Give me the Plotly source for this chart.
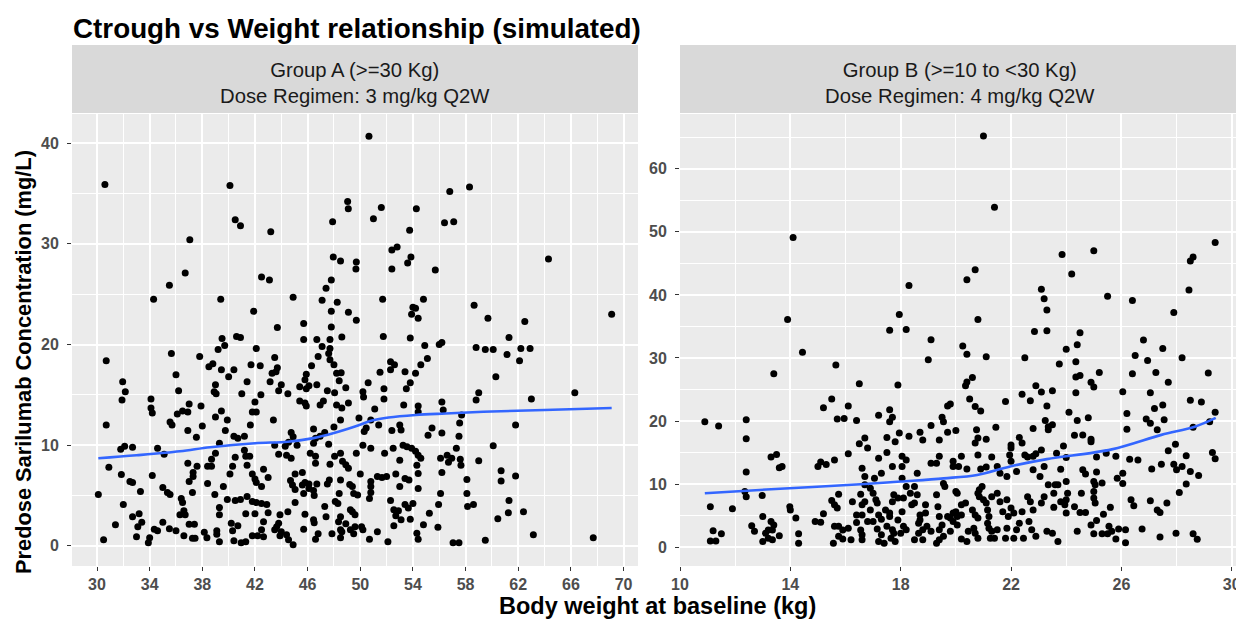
import plotly.graph_objects as go

# ---------------- data ----------------
# Group A (>=30 kg): (body weight kg, Ctrough mg/L)
group_a_points = [
    (30.6,35.9),(40.1,35.8),(40.5,32.4),(40.9,31.8),(37.05,30.4),(36.7,27.1),(35.5,25.9),(34.3,24.5),
    (39.4,24.5),(41.9,23.3),(39.5,20.6),(40.6,20.8),(40.9,20.7),
    (50.66,40.7),(49.04,34.2),(49.09,33.5),(51.6,33.6),(54.26,33.5),(47.9,32.2),(51.0,32.5),(43.2,31.2),
    (53.75,31.35),(56.4,32.1),(52.4,29.4),(52.8,29.7),(47.95,28.7),(48.5,28.3),(49.7,28.2),(49.67,27.5),
    (53.85,28.7),(53.6,28.1),(52.4,27.5),(55.7,27.4),(42.5,26.7),(43.1,26.4),(47.8,26.4),(47.4,25.6),
    (44.9,24.7),(47.1,24.4),(48.25,24.2),(51.7,24.5),(54.8,24.5),(47.8,23.3),(49.1,23.2),(54.0,23.7),
    (54.2,23.6),(53.9,23.0),(54.4,22.6),(49.7,22.4),(45.7,22.1),(43.7,21.7),(47.8,21.75),(46.7,20.5),
    (47.7,20.5),(48.6,20.75),(45.7,20.5),(51.75,20.8),(53.8,20.65),
    (56.8,35.2),(58.3,35.65),(57.1,32.2),(64.3,28.5),(58.65,23.9),(59.7,22.6),(62.5,22.3),(69.1,23.0),
    (61.3,20.7),
    (39.7,19.9),(39.2,19.5),(42.1,19.6),(30.7,18.4),(35.65,19.1),(37.8,18.8),(38.5,17.8),(38.8,18.1),
    (39.45,17.5),(40.0,16.8),(40.4,17.5),(41.7,18.0),(36.0,17.0),(31.95,16.3),(32.15,15.3),(31.9,14.5),
    (36.2,15.4),(39.0,16.0),(38.9,15.3),(39.05,15.1),(41.4,16.3),(41.0,15.1),(34.1,14.6),(34.1,13.7),
    (34.2,13.2),(42.0,14.3),(37.9,13.9),(37.0,14.1),(36.5,13.4),(36.1,13.1),(36.9,13.3),(39.45,13.4),
    (39.0,12.8),(39.9,12.5),(41.8,13.3),(42.1,13.3),(30.7,12.0),(35.55,12.3),(35.7,12.0),(38.0,11.9),
    (41.65,12.0),(39.75,11.45),(36.9,11.45),(37.55,10.8),(40.4,10.9),(40.7,10.7),(41.2,10.9),(31.8,9.6),
    (32.1,9.9),(32.7,9.8),(34.6,9.7),(35.1,9.1),(39.3,10.2),(39.0,9.2),(38.7,8.6),(38.7,7.9),(38.4,7.9),
    (41.2,9.5),(41.3,8.9),(41.6,8.9),(40.5,8.8),(40.3,7.9),(41.4,8.0),(30.9,7.8),(36.9,8.2),(37.6,7.9),
    (37.3,7.3),(37.3,6.9),(37.0,6.4),(31.85,7.1),(34.2,7.0),(32.5,6.4),(32.7,6.3),(40.1,7.15),(38.4,6.2),
    (39.6,5.9),(41.8,7.15),(42.0,6.65),(42.1,6.3),(33.3,5.4),(35.0,5.8),(35.35,5.3),(35.55,5.1),
    (37.25,5.3),(38.95,5.1),(30.1,5.1),(36.4,4.7),(36.5,4.3),(39.9,4.6),(40.5,4.5),(40.9,4.6),(41.4,4.9),
    (41.8,4.4),(42.1,4.3),(32.0,4.1),(39.3,3.8),(39.3,3.1),(36.6,3.5),(36.7,3.1),(36.3,3.1),(32.7,2.9),
    (33.2,3.2),(41.3,3.2),(42.0,3.2),(33.4,2.35),(33.1,1.9),(33.0,0.9),(31.4,2.1),(35.0,2.35),(34.35,1.65),
    (34.6,1.5),(35.5,1.7),(36.0,1.5),(37.0,2.15),(37.4,2.15),(36.6,1.0),(37.25,0.75),(37.45,0.75),
    (38.15,1.35),(38.35,0.8),(39.1,1.5),(39.1,1.15),(39.3,0.4),(40.2,2.25),(40.3,1.5),(40.7,2.0),(40.4,0.5),
    (40.95,0.3),(41.3,0.4),(41.8,1.0),(42.2,1.0),(30.5,0.6),(34.0,0.8),(33.9,0.3),
    (47.1,19.8),(47.7,19.6),(46.8,18.8),(47.6,19.1),(47.7,18.5),(48.0,18.0),(43.5,18.7),(42.4,17.9),
    (46.3,17.9),(43.7,17.7),(43.6,17.3),(43.3,17.15),(48.2,17.15),(48.55,17.2),(48.4,16.4),(45.9,17.05),
    (45.8,16.5),(43.15,16.3),(46.1,15.9),(45.4,15.8),(44.0,16.0),(43.8,15.4),(44.5,15.1),(45.9,15.6),
    (46.7,16.0),(47.5,15.4),(48.05,15.2),(48.9,15.7),(42.45,15.0),(45.4,14.4),(45.8,14.2),(45.9,13.9),
    (46.95,14.0),(47.2,14.4),(48.2,14.0),(48.6,13.7),(49.1,14.2),(50.2,15.3),(50.25,14.8),(50.6,16.2),
    (51.5,17.25),(52.3,18.3),(52.6,18.0),(52.3,17.5),(51.8,15.6),(51.8,14.6),(53.4,17.3),(54.2,17.15),
    (54.6,18.0),(55.1,18.6),(54.9,19.9),(56.0,20.0),(56.2,20.2),(53.8,16.2),(53.5,15.6),(53.3,14.0),
    (54.4,13.9),(54.4,13.3),(51.1,13.6),(49.9,12.7),(50.8,12.5),(50.3,11.35),(50.45,11.7),(51.4,12.0),
    (52.4,11.45),(53.0,12.0),(53.1,11.5),(55.45,11.7),(55.15,11.0),(43.4,12.5),(48.5,12.5),(46.45,11.6),
    (47.3,11.25),(46.95,10.9),(44.75,11.25),(44.9,10.85),(45.2,10.0),(48.0,11.8),(47.6,10.1),(46.6,10.7),
    (46.45,10.2),(43.5,10.0),(44.3,9.9),(44.55,10.3),(50.2,10.0),(50.8,9.7),(52.5,9.7),(53.25,10.0),
    (53.55,9.85),(53.9,9.7),(54.2,9.4),(54.4,9.0),(54.6,8.7),(54.3,8.0),(43.8,9.1),(44.4,9.0),(44.75,8.7),
    (46.2,9.2),(46.6,8.9),(46.6,8.2),(48.05,8.9),(48.5,9.2),(48.65,8.4),(49.7,9.2),(51.85,9.2),(53.0,8.5),
    (47.7,8.1),(48.9,8.05),(49.1,7.7),(54.4,7.2),(50.0,7.15),(42.65,7.6),(43.0,6.8),(42.5,5.9),(45.05,7.15),
    (45.6,7.3),(44.7,6.5),(44.85,6.05),(45.05,5.6),(45.6,6.05),(45.8,6.3),(46.1,6.15),(46.1,5.7),(45.7,5.2),
    (46.45,5.5),(46.5,5.0),(46.7,6.15),(47.5,6.15),(47.65,6.55),(48.5,6.55),(48.4,5.2),(49.2,6.1),(49.4,5.9),
    (49.5,5.2),(49.8,5.05),(50.8,6.4),(50.8,5.9),(50.8,5.3),(50.7,4.7),(51.3,6.9),(51.65,6.8),(52.0,6.9),
    (52.7,7.15),(53.0,5.9),(53.4,6.7),(53.7,6.55),(54.4,5.7),(56.1,5.2),(42.5,4.2),(42.9,4.1),(43.0,3.3),
    (42.65,2.4),(43.9,3.1),(44.5,3.4),(45.05,4.3),(45.8,3.15),(43.8,2.25),(43.65,1.9),(43.5,1.6),(44.0,1.4),
    (43.9,1.0),(44.4,1.1),(44.55,0.6),(44.9,0.1),(42.5,1.6),(42.65,0.9),(45.7,1.65),(46.45,2.6),(46.5,2.3),
    (46.6,0.65),(46.8,1.2),(47.3,3.9),(47.4,2.9),(47.85,1.2),(48.1,4.4),(48.3,4.2),(48.5,2.9),(48.35,2.4),
    (48.5,1.6),(48.6,1.4),(48.5,0.8),(48.9,2.2),(49.25,3.6),(49.4,3.4),(49.6,3.1),(49.25,1.6),(49.5,1.2),
    (49.6,1.9),(50.1,1.9),(50.2,1.6),(50.7,0.65),(51.3,1.4),(52.1,0.4),(52.3,4.5),(52.55,3.6),(52.7,3.0),
    (52.9,3.5),(53.1,2.6),(53.4,4.1),(53.65,3.75),(54.0,4.2),(52.55,2.0),(53.8,2.65),(54.3,1.25),(54.4,0.65),
    (54.8,2.1),(55.25,3.25),(55.9,1.85),(55.95,4.1),(56.2,14.3),(56.3,13.5),(56.2,11.2),(56.1,8.7),(56.2,7.3),
    (58.8,19.7),(59.5,19.5),(60.1,19.5),(61.15,19.0),(62.2,19.6),(62.9,19.6),(62.1,18.4),(60.3,16.8),
    (59.0,15.2),(58.8,14.5),(63.0,14.6),(66.3,15.2),(57.7,13.0),(57.55,12.2),(57.5,10.9),(57.3,9.7),
    (61.8,12.0),(60.1,9.95),(56.6,9.0),(56.7,8.3),(56.95,8.7),(57.6,8.6),(57.65,8.0),(59.0,8.45),(58.1,6.6),
    (60.7,7.45),(60.7,6.45),(61.8,6.95),(58.1,5.2),(58.15,3.9),(58.6,4.1),(61.3,4.5),(61.25,3.3),(62.4,3.4),
    (60.45,2.7),(63.15,1.1),(67.7,0.8),(57.05,0.3),(57.5,0.3),(59.5,0.55),
]

# Group B (>=10 to <30 kg)
group_b_points = [
    (14.1,49.1),(13.9,36.1),
    (21.0,65.2),(21.4,53.9),(20.7,44.0),(20.4,42.4),(18.3,41.5),(23.1,40.9),(23.2,39.4),(23.3,37.6),
    (17.95,36.9),(20.8,36.1),(17.6,34.4),(18.2,34.5),(22.85,34.2),(23.3,34.3),(19.1,32.9),
    (29.4,48.3),(28.6,46.0),(28.5,45.4),(25.0,47.0),(23.85,46.4),(24.2,43.3),(28.45,40.8),(25.5,39.8),
    (26.4,39.1),(27.9,37.2),(24.5,34.0),(26.8,32.85),
    (14.44,30.9),(15.65,28.9),(13.4,27.5),(16.5,25.9),(15.5,23.5),(15.2,22.1),(16.1,22.4),(10.9,19.9),
    (11.4,19.2),(12.4,20.2),(12.4,17.2),(15.7,20.3),(15.95,20.4),(16.4,20.1),(16.7,17.3),(16.5,16.4),
    (13.3,14.3),(13.5,14.7),(13.6,12.6),(13.7,12.8),(12.4,11.9),(15.1,13.5),(15.0,12.8),(15.3,13.1),
    (15.6,13.8),(16.1,14.8),(16.6,12.5),(16.7,11.2),(12.35,8.8),(12.4,8.0),(12.98,8.2),(11.1,6.4),(11.9,6.1),
    (13.98,6.4),(14.0,5.9),(15.75,8.4),(15.5,7.4),(15.6,6.7),(15.7,6.2),(16.25,7.2),(16.55,8.4),(16.7,7.2),
    (15.2,5.3),(14.2,4.6),(13.0,4.85),(13.3,4.05),(13.4,3.5),(13.35,2.7),(13.2,2.7),(13.1,2.2),(13.2,1.4),
    (13.35,1.15),(13.6,1.8),(13.0,0.9),(12.6,3.4),(12.7,2.5),(11.2,2.6),(11.5,2.1),(11.1,0.95),(11.3,0.95),
    (14.9,4.05),(15.1,3.95),(14.3,2.1),(14.3,0.6),(15.56,0.6),(15.6,3.3),(15.75,3.3),(15.9,2.7),(16.1,3.0),
    (16.4,3.9),(16.55,2.7),(15.75,1.7),(15.9,1.3),(16.2,1.15),(16.6,1.15),(16.4,5.1),(16.6,5.1),
    (20.25,31.9),(20.4,30.6),(21.1,30.2),(19.0,29.7),(22.5,30.05),(17.9,25.7),(20.6,26.9),(20.4,26.2),
    (20.35,25.6),(20.5,23.5),(20.7,22.3),(20.9,21.6),(19.7,22.4),(19.8,22.7),(21.8,23.1),(22.4,24.25),
    (22.7,23.2),(22.9,25.6),(23.1,24.6),(23.3,22.4),(17.2,20.9),(17.6,21.8),(17.7,20.6),(17.6,19.9),
    (19.5,20.6),(19.55,19.9),(19.1,19.3),(16.8,15.7),(17.5,17.4),(17.8,16.7),(17.95,18.1),(18.3,17.6),
    (18.7,18.2),(18.8,17.0),(19.4,17.0),(19.7,18.2),(20.0,18.5),(20.75,18.6),(20.8,17.3),(20.7,16.5),
    (21.1,17.1),(21.45,19.0),(22.0,16.2),(22.0,15.7),(22.3,17.4),(22.4,16.5),(22.8,18.8),(23.24,20.1),
    (23.35,19.1),(23.1,15.4),(22.9,14.8),(22.6,14.3),(22.8,14.4),(17.2,14.1),(17.5,15.0),(17.7,12.8),
    (18.05,14.4),(18.2,13.8),(18.05,12.8),(18.05,10.9),(17.3,11.7),(17.05,10.9),(16.7,9.9),(18.6,11.7),
    (19.1,13.3),(19.3,13.3),(19.4,14.4),(19.9,13.6),(19.9,12.8),(20.1,12.8),(20.2,14.4),(20.4,12.4),
    (20.8,14.6),(20.9,12.4),(21.1,12.7),(21.3,14.3),(21.5,12.8),(21.6,11.7),(21.85,11.2),(21.95,14.6),
    (22.0,13.6),(22.2,12.0),(22.5,14.6),(22.8,12.25),(23.05,11.2),(23.2,12.8),(16.6,6.7),(16.8,4.05),
    (16.6,1.95),(16.9,9.35),(17.0,8.55),(17.1,7.5),(17.15,7.0),(16.9,5.9),(17.2,5.1),(17.0,4.05),(17.3,4.4),
    (17.15,2.85),(17.3,1.95),(17.2,0.9),(17.4,0.6),(17.45,5.9),(17.6,5.4),(17.6,4.85),(17.5,3.3),(17.7,2.75),
    (17.75,2.2),(17.65,1.4),(17.8,0.9),(17.9,4.3),(18.05,5.6),(18.1,3.3),(18.2,2.75),(18.0,2.2),(17.7,7.2),
    (17.9,7.8),(17.75,8.3),(18.1,7.8),(18.2,9.6),(18.5,9.6),(18.35,8.55),(18.4,6.7),(18.5,7.0),(18.6,8.3),
    (18.9,6.7),(18.7,5.1),(18.7,4.3),(18.65,3.8),(18.95,3.3),(18.8,2.75),(18.65,2.2),(18.8,1.15),(18.5,1.15),
    (19.1,2.5),(18.9,5.4),(19.3,8.3),(19.35,6.4),(19.4,4.85),(19.5,3.5),(19.4,2.75),(19.55,1.7),(19.4,1.15),
    (19.3,0.6),(19.55,10.1),(19.6,9.6),(19.7,4.85),(19.8,4.6),(19.9,5.4),(19.9,4.05),(20.0,5.6),(20.05,4.85),
    (20.2,5.1),(20.05,3.5),(19.8,2.5),(20.2,1.3),(20.35,7.0),(20.0,8.8),(20.05,8.55),(20.2,6.7),(20.4,0.9),
    (20.6,5.9),(20.7,5.1),(20.8,4.6),(20.65,3.0),(20.7,2.2),(20.45,2.5),(20.8,1.4),(20.85,9.1),(20.8,8.55),
    (20.85,8.0),(20.95,9.6),(21.0,7.5),(21.1,7.0),(21.15,5.9),(21.2,4.85),(21.15,3.8),(21.2,3.0),(21.3,2.5),
    (21.25,1.4),(21.4,1.4),(21.5,2.75),(21.3,8.0),(21.5,8.55),(21.6,7.2),(21.7,5.6),(21.85,7.5),(21.9,4.85),
    (22.0,6.2),(22.1,5.4),(21.85,3.0),(21.8,1.4),(22.1,1.4),(22.2,2.75),(22.3,3.8),(22.4,5.6),(22.45,1.4),
    (22.6,8.0),(22.7,7.2),(22.8,5.9),(22.65,4.05),(22.75,2.75),(22.9,1.7),(23.1,7.0),(23.2,8.0),(23.3,2.5),
    (27.5,31.5),(28.2,30.05),(26.5,30.4),(26.95,29.6),(24.4,32.1),(24.0,31.4),(23.75,29.05),(24.35,29.4),
    (29.15,27.6),(25.2,27.7),(26.4,27.5),(27.25,27.7),(24.35,27.0),(24.5,27.2),(24.9,26.15),(25.0,25.4),
    (27.7,26.15),(23.5,24.8),(24.35,24.5),(26.05,24.65),(27.05,24.5),(28.5,23.3),(28.9,23.0),(24.1,21.4),
    (24.4,20.1),(24.8,20.5),(26.2,21.2),(27.2,22.0),(27.5,22.55),(26.9,20.3),(27.05,19.65),(27.55,20.2),
    (29.2,19.9),(29.4,21.4),(28.6,19.0),(27.3,18.6),(26.2,18.7),(23.5,19.4),(23.35,18.6),(24.3,17.75),
    (24.6,17.8),(24.9,17.1),(24.9,16.7),(23.9,16.05),(23.65,14.9),(24.0,14.2),(25.1,14.3),(25.45,14.9),
    (25.8,14.4),(26.3,13.95),(26.6,13.8),(27.7,15.3),(27.96,16.3),(28.35,14.5),(29.3,15.0),(29.4,14.0),
    (27.1,12.4),(27.45,13.15),(27.9,13.15),(28.0,12.25),(28.2,12.8),(28.5,12.0),(28.8,11.35),(23.8,12.35),
    (23.35,9.9),(23.6,9.9),(23.7,9.9),(23.55,8.55),(24.0,10.4),(24.6,12.25),(24.7,11.6),(25.1,11.9),
    (25.0,10.4),(25.05,9.9),(25.3,10.15),(25.0,8.8),(24.55,8.55),(24.05,8.55),(24.0,7.5),(23.8,7.2),
    (23.95,6.7),(24.0,5.4),(23.55,6.3),(24.3,6.4),(24.5,5.5),(24.7,5.5),(25.0,7.8),(25.05,7.0),(25.35,5.2),
    (25.6,6.3),(24.9,3.5),(25.1,4.2),(25.0,2.1),(25.3,2.1),(25.5,2.1),(25.55,3.3),(25.65,2.5),(25.8,1.3),
    (25.9,2.85),(26.15,2.75),(26.15,0.7),(24.4,2.5),(23.7,0.9),(23.5,2.2),(25.85,10.9),(26.05,11.7),
    (26.05,10.1),(26.35,7.5),(26.45,6.55),(26.75,2.85),(27.05,7.35),(27.3,5.9),(27.4,5.5),(27.65,7.0),
    (27.4,1.6),(27.98,2.2),(28.1,8.65),(28.35,10.0),(28.6,2.1),(28.75,1.25),
]

# smoothed (loess) trend lines as drawn
a_smooth_weight = [30.1, 33.0, 36.3, 38.6, 42.0, 44.5, 46.45, 48.0, 49.6, 50.9, 52.15, 54.2, 56.5, 60.0, 64.0, 69.1]
a_smooth_conc   = [8.7, 9.0, 9.4, 9.8, 10.2, 10.35, 10.7, 11.2, 11.85, 12.45, 12.75, 13.0, 13.15, 13.35, 13.5, 13.7]
b_smooth_weight = [10.9, 13.8, 16.7, 18.0, 19.56, 20.77, 21.97, 23.3, 25.65, 27.45, 28.66, 29.42]
b_smooth_conc   = [8.55, 9.3, 10.0, 10.4, 10.9, 11.45, 12.8, 13.95, 15.5, 17.8, 19.1, 20.5]

a_weight = [p[0] for p in group_a_points]
a_conc = [p[1] for p in group_a_points]
b_weight = [p[0] for p in group_b_points]
b_conc = [p[1] for p in group_b_points]

title_text = "Ctrough vs Weight relationship (simulated)"
strip_a = "Group A (>=30 Kg)<br>Dose Regimen: 3 mg/kg Q2W"
strip_b = "Group B (>=10 to &lt;30 Kg)<br>Dose Regimen: 4 mg/kg Q2W"
y_title = "Predose Sarilumab Concentration (mg/L)"
x_title = "Body weight at baseline (kg)"

a_xticks = [30, 34, 38, 42, 46, 50, 54, 58, 62, 66, 70]
a_xminor = [32, 36, 40, 44, 48, 52, 56, 60, 64, 68]
a_yticks = [0, 10, 20, 30, 40]
a_yminor = [5, 15, 25, 35]
b_xticks = [10, 14, 18, 22, 26, 30]
b_xminor = [12, 16, 20, 24, 28]
b_yticks = [0, 10, 20, 30, 40, 50, 60]
b_yminor = [5, 15, 25, 35, 45, 55, 65]

# ---------------- layout geometry ----------------
# the page body adds an 8 px offset; all "page" pixel positions below are
# positions in the 1244x621 screenshot.
OFF = 8
W, H = 1236, 613
L, R, T, B = 64, 4, 106, 55
PW = W - L - R
PH = H - T - B

def fx(px):
    return (px - OFF - L) / PW

def fy(py):
    return (H - B - (py - OFF)) / PH

FONT = "Liberation Sans, Arial, sans-serif"

fig = go.Figure()
fig.add_trace(go.Scatter(x=a_weight, y=a_conc, mode="markers",
                         marker=dict(color="black", size=7, line=dict(width=0)),
                         xaxis="x", yaxis="y", showlegend=False, hoverinfo="x+y"))
fig.add_trace(go.Scatter(x=a_smooth_weight, y=a_smooth_conc, mode="lines",
                         line=dict(color="#3366FF", width=2.6, shape="spline", smoothing=1.0),
                         xaxis="x", yaxis="y", showlegend=False))
fig.add_trace(go.Scatter(x=b_weight, y=b_conc, mode="markers",
                         marker=dict(color="black", size=7, line=dict(width=0)),
                         xaxis="x2", yaxis="y2", showlegend=False, hoverinfo="x+y"))
fig.add_trace(go.Scatter(x=b_smooth_weight, y=b_smooth_conc, mode="lines",
                         line=dict(color="#3366FF", width=2.6, shape="spline", smoothing=1.0),
                         xaxis="x2", yaxis="y2", showlegend=False))

def axis_style(rng, ticks, minor, domain, anchor, standoff):
    return dict(
        range=rng, domain=domain, anchor=anchor,
        tickmode="array", tickvals=ticks, ticktext=[str(t) for t in ticks],
        showgrid=True, gridcolor="white", gridwidth=1.6,
        minor=dict(tickvals=minor, showgrid=True, gridcolor="white", gridwidth=0.7, ticks=""),
        zeroline=False, showline=False,
        ticks="outside", ticklen=4, tickwidth=1, tickcolor="#333333",
        ticklabelstandoff=standoff,
        tickfont=dict(family=FONT, size=16, color="#4D4D4D", weight="bold"),
        fixedrange=True,
    )

xa_dom = [0, fx(638)]
xb_dom = [fx(680), 1]

fig.update_layout(
    width=W, height=H,
    margin=dict(l=L, r=R, t=T, b=B, pad=0),
    paper_bgcolor="white", plot_bgcolor="#EBEBEB",
    font=dict(family=FONT),
    xaxis=axis_style([28.1, 71.1], a_xticks, a_xminor, xa_dom, "y", 0),
    yaxis=axis_style([-2.0, 42.9], a_yticks, a_yminor, [0, 1], "x", 5),
    xaxis2=axis_style([10.0, 30.3], b_xticks, b_xminor, xb_dom, "y2", 0),
    yaxis2=axis_style([-3.0, 68.7], b_yticks, b_yminor, [0, 1], "x2", 5),
)

# strips
for dom, txt in [(xa_dom, strip_a), (xb_dom, strip_b)]:
    fig.add_shape(type="rect", xref="paper", yref="paper",
                  x0=dom[0], x1=dom[1], y0=fy(113), y1=fy(45),
                  fillcolor="#D9D9D9", line=dict(width=0), layer="below")
    fig.add_annotation(xref="paper", yref="paper", x=(dom[0] + dom[1]) / 2, y=fy(83),
                       text=txt, showarrow=False, xanchor="center", yanchor="middle",
                       font=dict(family=FONT, size=20.3, color="#1A1A1A"))

# title
fig.add_annotation(xref="paper", yref="paper", x=fx(71), y=fy(28), text="<b>" + title_text + "</b>",
                   showarrow=False, xanchor="left", yanchor="middle",
                   font=dict(family=FONT, size=27.8, color="black"))
# axis titles
fig.add_annotation(xref="paper", yref="paper", x=fx(23), y=fy(362), text="<b>" + y_title + "</b>",
                   showarrow=False, textangle=-90, xanchor="center", yanchor="middle",
                   font=dict(family=FONT, size=21.8, color="black"))
fig.add_annotation(xref="paper", yref="paper", x=fx(657), y=fy(606), text="<b>" + x_title + "</b>",
                   showarrow=False, xanchor="center", yanchor="middle",
                   font=dict(family=FONT, size=23.5, color="black"))

fig.write_html("out.html")
